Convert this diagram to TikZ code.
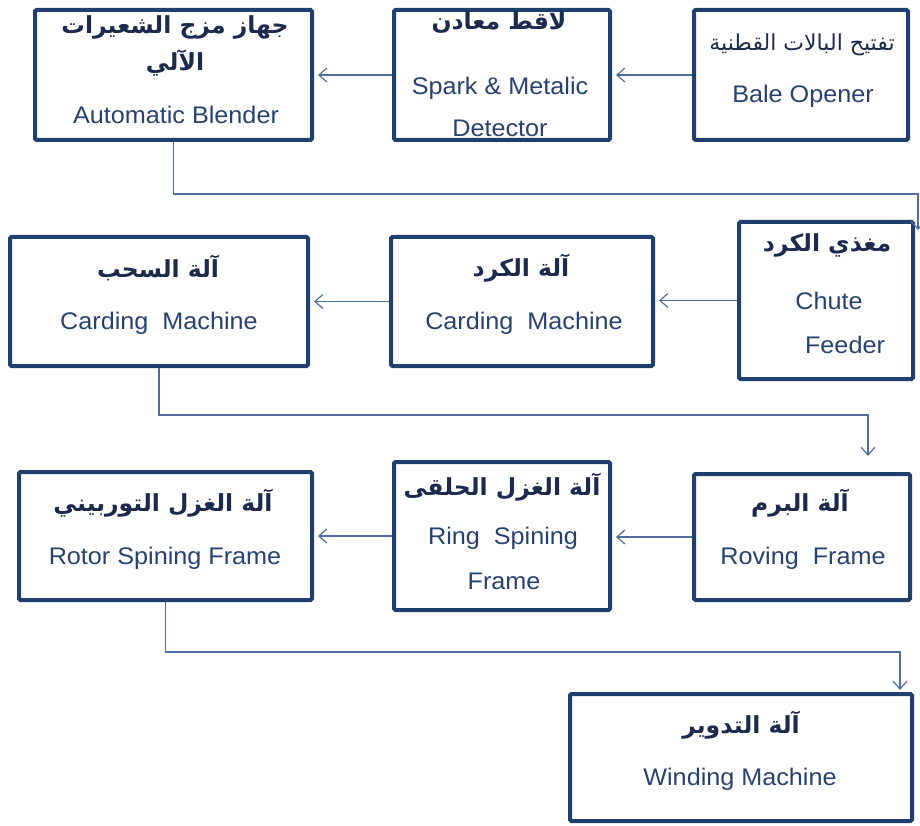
\documentclass[tikz,border=0pt]{standalone}
\usepackage{fontspec}
\setmainfont{Liberation Sans}[FakeStretch=1.05]
\newfontfamily\arabicfont[Script=Arabic]{DejaVu Sans}
\TeXXeTstate=1
\usetikzlibrary{arrows.meta,calc}

\definecolor{boxblue}{RGB}{31,64,110}
\definecolor{lineblue}{RGB}{79,110,158}
\definecolor{textblue}{RGB}{40,66,112}
\definecolor{arblue}{RGB}{28,42,78}

\tikzset{
  machine/.style={rectangle, draw=boxblue, line width=4pt, rounded corners=1.5pt, fill=white, inner sep=0pt},
  entext/.style={text=textblue, font=\fontsize{24}{28}\selectfont, inner sep=0pt},
  artext/.style={text=arblue, font=\arabicfont\bfseries\fontsize{23.5}{28}\selectfont, inner sep=0pt},
  flow/.style={draw=lineblue, line width=1.2pt, shorten >=4pt, -{Straight Barb[length=8pt,width=14pt]}},
}

\begin{document}
\begin{tikzpicture}[x=1pt, y=-1pt]
  \useasboundingbox (0,0) rectangle (920,826);

  %% first row
  \node[machine, minimum width=277pt, minimum height=130pt] (blender) at (173.5,75) {};
  \node[machine, minimum width=216pt, minimum height=130pt] (spark) at (502,75) {};
  \node[machine, minimum width=214pt, minimum height=130pt] (bale) at (801,75) {};
  %% second row
  \node[machine, minimum width=298pt, minimum height=129pt] (drawing) at (159,301.5) {};
  \node[machine, minimum width=262pt, minimum height=129pt] (carding) at (522,301.5) {};
  \node[machine, minimum width=174pt, minimum height=157pt] (chute) at (826,300.5) {};
  %% third row
  \node[machine, minimum width=293pt, minimum height=128pt] (rotor) at (165.5,536) {};
  \node[machine, minimum width=216pt, minimum height=148pt] (ring) at (502,536) {};
  \node[machine, minimum width=216pt, minimum height=126pt] (roving) at (802,537) {};
  %% last one
  \node[machine, minimum width=342pt, minimum height=127pt] (winding) at (741,757.5) {};

  %% labels, arabic over english
  \node[artext] (blender-ar1) at (175,27) {\beginR جهاز مزج الشعيرات\endR};
  \node[artext] (blender-ar2) at (175,63) {\beginR الآلي\endR};
  \node[entext] (blender-en) at (176,115) {Automatic Blender};
  \node[artext] (spark-ar) at (499,23) {\beginR لاقط معادن\endR};
  \node[entext] (spark-en1) at (500,88) {Spark \& Metalic};
  \node[entext] (spark-en2) at (500,128) {Detector};
  \node[artext, font=\arabicfont\fontsize{22}{26}\selectfont] (bale-ar) at (802,45) {\beginR تفتيح البالات القطنية\endR};
  \node[entext] (bale-en) at (803,96) {Bale Opener};

  \node[artext] (drawing-ar) at (158,268) {\beginR آلة السحب\endR};
  \node[entext] (drawing-en) at (159,323) {Carding~~Machine};
  \node[artext] (carding-ar) at (521,268) {\beginR آلة الكرد\endR};
  \node[entext] (carding-en) at (524,323) {Carding~~Machine};
  \node[artext] (chute-ar) at (827,245) {\beginR مغذي الكرد\endR};
  \node[entext] (chute-en1) at (829,301) {Chute};
  \node[entext] (chute-en2) at (845,345) {Feeder};

  \node[artext] (rotor-ar) at (163,503) {\beginR آلة الغزل التوربيني\endR};
  \node[entext] (rotor-en) at (165,558) {Rotor Spining Frame};
  \node[artext] (ring-ar) at (502,487) {\beginR آلة الغزل الحلقى\endR};
  \node[entext] (ring-en1) at (503,538) {Ring~~Spining};
  \node[entext] (ring-en2) at (504,581) {Frame};
  \node[artext] (roving-ar) at (800,503) {\beginR آلة البرم\endR};
  \node[entext] (roving-en) at (803,558) {Roving~~Frame};

  \node[artext] (winding-ar) at (741,725) {\beginR آلة التدوير\endR};
  \node[entext] (winding-en) at (740,779) {Winding Machine};

  %% arrows inside each row
  \draw[flow] (bale.west) -- (spark.east);
  \draw[flow] (spark.west) -- (blender.east);
  \draw[flow] (chute.west) -- (chute.west -| carding.east);
  \draw[flow] (carding.west) -- (carding.west -| drawing.east);
  \draw[flow] (roving.west) -- (roving.west -| ring.east);
  \draw[flow] (ring.west) -- (ring.west -| rotor.east);

  %% from one row down to the next
  \coordinate (chute-in) at (918,234);
  \coordinate (roving-in) at (868,460);
  \coordinate (winding-in) at (900,694);
  \draw[flow] (blender.south) -- ++(0,52) -| (chute-in);
  \draw[flow] (drawing.south) -- ++(0,47) -| (roving-in);
  \draw[flow] (rotor.south) -- ++(0,50) -| (winding-in);
\end{tikzpicture}
\end{document}
